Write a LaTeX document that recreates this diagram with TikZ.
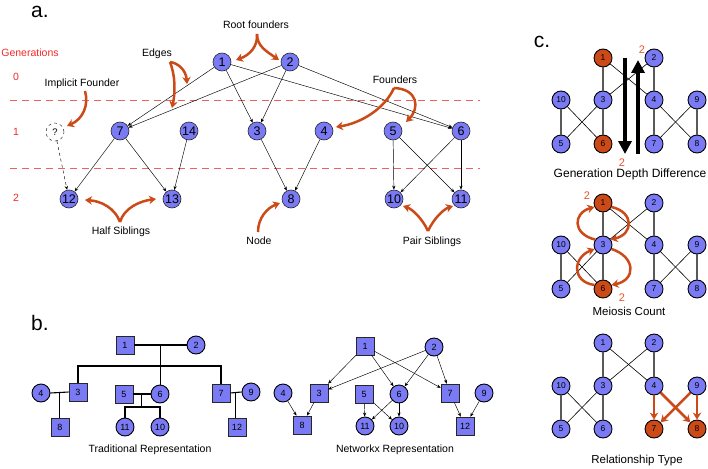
\documentclass[tikz,border=0pt]{standalone}
\usepackage{fontspec}
\setmainfont{Liberation Sans}
\usetikzlibrary{arrows.meta,calc}
\definecolor{nblue}{RGB}{122,122,245}
\definecolor{ored}{RGB}{204,74,24}
\definecolor{gred}{RGB}{245,40,40}
\definecolor{dred}{RGB}{238,95,95}
\definecolor{tred}{RGB}{230,85,45}
\begin{document}
\begin{tikzpicture}[x=1pt,y=-1pt,
  anode/.style={circle,draw=black!85,fill=nblue,line width=0.6pt,minimum size=18pt,inner sep=0pt,font=\fontsize{12.5}{12.5}\selectfont},
  qnode/.style={circle,draw=black!80,dashed,fill=white,line width=0.5pt,minimum size=18pt,inner sep=0pt,font=\fontsize{9.5}{9.5}\selectfont},
  bsq/.style={rectangle,draw=black!85,fill=nblue,line width=0.6pt,minimum size=18pt,inner sep=0pt,font=\fontsize{9}{9}\selectfont},
  bci/.style={circle,draw=black,fill=nblue,line width=0.9pt,minimum size=18pt,inner sep=0pt,font=\fontsize{9}{9}\selectfont},
  cnode/.style={circle,draw=black,fill=nblue,line width=0.9pt,minimum size=18pt,inner sep=0pt,font=\fontsize{8.5}{8.5}\selectfont},
  cor/.style={cnode,fill=ored},
  lbl/.style={font=\fontsize{10.5}{12}\selectfont,inner sep=0pt},
  blbl/.style={font=\fontsize{10.5}{12}\selectfont,inner sep=0pt},
  clbl/.style={font=\fontsize{11.5}{13}\selectfont,inner sep=0pt},
  plet/.style={font=\fontsize{21}{21}\selectfont,inner sep=0pt},
  gen/.style={font=\fontsize{10.5}{12}\selectfont,text=gred,inner sep=0pt},
  twoc/.style={font=\fontsize{11}{12}\selectfont,text=tred,inner sep=0pt},
  sarr/.style={line width=0.45pt,-{Stealth[length=4pt,width=3.2pt]}},
  oarr/.style={draw=ored,line width=2.5pt,-{Stealth[length=7pt,width=8.5pt]}},
  tline/.style={line width=1.1pt,black},
  gline/.style={line width=1.4pt,black!65},
  dline/.style={line width=0.6pt,black},
  bigarr/.style={line width=4.5pt,-{Triangle[length=13pt,width=13pt]}},
  gdash/.style={draw=dred,line width=1pt,dash pattern=on 7pt off 5pt}
]
\useasboundingbox (0,0) rectangle (708,468);

%% ---------------- panel a ----------------
\node[plet] (la) at (40,12) {a.};
\node[gen] (gtitle) at (30,53) {Generations};
\node[gen] (g0) at (16,77) {0};
\node[gen] (g1) at (16,132) {1};
\node[gen] (g2) at (16,198) {2};
\draw[gdash] (10,100.5) -- (480,100.5);
\draw[gdash] (10,168.5) -- (480,168.5);

\node[anode] (a1) at (222,62) {1};
\node[anode] (a2) at (290,62) {2};
\node[qnode] (aq) at (55,132) {?};
\node[anode] (a7) at (120,131) {7};
\node[anode] (a14) at (189,131) {14};
\node[anode] (a3) at (257,131) {3};
\node[anode] (a4) at (324,131) {4};
\node[anode] (a5) at (393,131) {5};
\node[anode] (a6) at (461,131) {6};
\node[anode] (a12) at (69,199) {12};
\node[anode] (a13) at (172,199) {13};
\node[anode] (a8) at (291,199) {8};
\node[anode] (a10) at (394,199) {10};
\node[anode] (a11) at (461,199) {11};

\draw[sarr] (a1) -- (a7);
\draw[sarr] (a2) -- (a7);
\draw[sarr] (a1) -- (a3);
\draw[sarr] (a2) -- (a3);
\draw[sarr] (a1) -- (a6);
\draw[sarr] (a2) -- (a6);
\draw[sarr,dashed] (aq) -- (a12);
\draw[sarr] (a7) -- (a12);
\draw[sarr] (a7) -- (a13);
\draw[sarr] (a14) -- (a13);
\draw[sarr] (a3) -- (a8);
\draw[sarr] (a4) -- (a8);
\draw[sarr] (a5) -- (a10);
\draw[sarr] (a5) -- (a11);
\draw[sarr] (a6) -- (a10);
\draw[sarr] (a6) -- (a11);

\node[lbl] (trf) at (256,25) {Root founders};
\node[lbl] (ted) at (157,54) {Edges};
\node[lbl] (tif) at (82,84) {Implicit Founder};
\node[lbl] (tfo) at (395,80) {Founders};
\node[lbl] (ths) at (121,232) {Half Siblings};
\node[lbl] (tno) at (259,241) {Node};
\node[lbl] (tps) at (432,242) {Pair Siblings};

\coordinate (orf) at (257,34);
\coordinate (prf1) at (236,60);
\coordinate (prf2) at (279,60);
\draw[oarr] (orf) .. controls (258,46) and (250,55) .. (prf1);
\draw[oarr] (orf) .. controls (257,46) and (266,51) .. (prf2);

\coordinate (oed) at (170,62);
\coordinate (ped1) at (187,84);
\coordinate (ped2) at (172,108);
\draw[oarr] (oed) .. controls (178,63) and (186,70) .. (ped1);
\draw[oarr] (oed) .. controls (176,78) and (175,94) .. (ped2);

\coordinate (oif) at (85,91);
\coordinate (pif) at (67,126);
\draw[oarr] (oif) .. controls (89,105) and (83,119) .. (pif);

\coordinate (ofo) at (394,88);
\coordinate (pfo1) at (336,127);
\coordinate (pfo2) at (406,122);
\draw[oarr] (ofo) .. controls (385,108) and (362,123) .. (pfo1);
\draw[oarr] (ofo) .. controls (418,89) and (420,108) .. (pfo2);

\coordinate (ohs) at (120,222);
\coordinate (phs1) at (85,200);
\coordinate (phs2) at (156,199);
\draw[oarr] (ohs) .. controls (115,208) and (101,201) .. (phs1);
\draw[oarr] (ohs) .. controls (124,208) and (140,201) .. (phs2);

\coordinate (ono) at (258,232);
\coordinate (pno) at (280,203);
\draw[oarr] (ono) .. controls (258,218) and (267,208) .. (pno);

\coordinate (ops) at (428,231);
\coordinate (pps1) at (403,206);
\coordinate (pps2) at (453,206);
\draw[oarr] (ops) .. controls (422,218) and (412,209) .. (pps1);
\draw[oarr] (ops) .. controls (434,218) and (444,209) .. (pps2);

%% ---------------- panel b ----------------
\node[plet] (lb) at (40,323) {b.};

\node[bsq] (t1) at (125,345) {1};
\node[bci] (t2) at (196,345) {2};
\node[bci] (t4) at (41,393) {4};
\node[bsq] (t3) at (78,392) {3};
\node[bsq] (t5) at (124,394) {5};
\node[bci] (t6) at (160,394) {6};
\node[bsq] (t7) at (221,393) {7};
\node[bci] (t9) at (251,392) {9};
\node[bsq] (t8) at (60,427) {8};
\node[bci] (t11) at (125,427) {11};
\node[bci] (t10) at (160,427) {10};
\node[bsq] (t12) at (237,427) {12};

\draw[tline] (t1.east) -- (t2.west);
\coordinate (m12) at ($(t1.east)!0.5!(t2.west)$);
\coordinate (bar1) at (0,366);
\draw[tline] (m12) -- (m12 |- t6.north);
\draw[tline] (t3.north) -- (t3.north |- bar1) -- (t7.north |- bar1) -- (t7.north);
\draw[tline] (t4.east) -- (t3.west);
\coordinate (m43) at ($(t4.east)!0.5!(t3.west)$);
\draw[tline] (m43) -- (m43 |- t8.north);
\draw[tline] (t5.east) -- (t6.west);
\coordinate (m56) at ($(t5.east)!0.5!(t6.west)$);
\coordinate (bar2) at (0,407);
\draw[tline] (m56) -- (m56 |- bar2);
\draw[tline] (t11.north) -- (t11.north |- bar2) -- (t10.north |- bar2) -- (t10.north);
\draw[tline] (t7.east) -- (t9.west);
\coordinate (m79) at ($(t7.east)!0.5!(t9.west)$);
\draw[tline] (m79) -- (m79 |- t12.north);

\node[blbl] (ttr) at (150,450) {Traditional Representation};

\node[bsq] (n1) at (365,346) {1};
\node[bci] (n2) at (434,347) {2};
\node[bci] (n4) at (283,393) {4};
\node[bsq] (n3) at (319,393) {3};
\node[bsq] (n5) at (364,394) {5};
\node[bci] (n6) at (399,394) {6};
\node[bsq] (n7) at (450,393) {7};
\node[bci] (n9) at (484,393) {9};
\node[bsq] (n8) at (302,425) {8};
\node[bci] (n11) at (365,426) {11};
\node[bci] (n10) at (399,426) {10};
\node[bsq] (n12) at (465,426) {12};

\draw[sarr] (n1) -- (n3);
\draw[sarr] (n1) -- (n6);
\draw[sarr] (n1) -- (n7);
\draw[sarr] (n2) -- (n3);
\draw[sarr] (n2) -- (n6);
\draw[sarr] (n2) -- (n7);
\draw[sarr] (n4) -- (n8);
\draw[sarr] (n3) -- (n8);
\draw[sarr] (n5) -- (n11);
\draw[sarr] (n5) -- (n10);
\draw[sarr] (n6) -- (n11);
\draw[sarr] (n6) -- (n10);
\draw[sarr] (n7) -- (n12);
\draw[sarr] (n9) -- (n12);

\node[blbl] (tnx) at (395,450) {Networkx Representation};

%% ---------------- panel c ----------------
\node[plet] (lc) at (542,42) {c.};

% graph 1
\node[cor] (p1) at (603,58) {1};
\node[cnode] (p2) at (654,58) {2};
\node[cnode] (p10) at (561,100) {10};
\node[cnode] (p3) at (603,100) {3};
\node[cnode] (p4) at (654,100) {4};
\node[cnode] (p9) at (697,100) {9};
\node[cnode] (p5) at (561,144) {5};
\node[cor] (p6) at (603,144) {6};
\node[cnode] (p7) at (654,144) {7};
\node[cnode] (p8) at (697,144) {8};
\draw[gline] (p1) -- (p3);
\draw[dline] (p1) -- (p4);
\draw[dline] (p2) -- (p3);
\draw[gline] (p2) -- (p4);
\draw[gline] (p10) -- (p5);
\draw[dline] (p10) -- (p6);
\draw[dline] (p3) -- (p5);
\draw[gline] (p3) -- (p6);
\draw[gline] (p4) -- (p7);
\draw[dline] (p4) -- (p8);
\draw[dline] (p9) -- (p7);
\draw[gline] (p9) -- (p8);
\coordinate (bd1) at (625,58);
\coordinate (bd2) at (625,154);
\coordinate (bu1) at (638,154);
\coordinate (bu2) at (638,60);
\draw[bigarr] (bd1) -- (bd2);
\draw[bigarr] (bu1) -- (bu2);
\node[twoc] (pt1) at (642,50) {2};
\node[twoc] (pt2) at (622,163) {2};
\node[clbl,font=\fontsize{12}{13}\selectfont] (tgd) at (630,174) {Generation Depth Difference};

% graph 2
\node[cor] (q1) at (603,203) {1};
\node[cnode] (q2) at (654,203) {2};
\node[cnode] (q10) at (561,245) {10};
\node[cnode] (q3) at (603,245) {3};
\node[cnode] (q4) at (654,245) {4};
\node[cnode] (q9) at (697,245) {9};
\node[cnode] (q5) at (561,289) {5};
\node[cor] (q6) at (603,289) {6};
\node[cnode] (q7) at (654,289) {7};
\node[cnode] (q8) at (697,289) {8};
\draw[gline] (q1) -- (q3);
\draw[dline] (q1) -- (q4);
\draw[dline] (q2) -- (q3);
\draw[gline] (q2) -- (q4);
\draw[gline] (q10) -- (q5);
\draw[dline] (q10) -- (q6);
\draw[dline] (q3) -- (q5);
\draw[gline] (q3) -- (q6);
\draw[gline] (q4) -- (q7);
\draw[dline] (q4) -- (q8);
\draw[dline] (q9) -- (q7);
\draw[gline] (q9) -- (q8);
\draw[oarr] (q3.145) .. controls (572,234) and (573,213) .. (q1.205);
\draw[oarr] (q1.-25) .. controls (634,212) and (634,234) .. (q3.35);
\draw[oarr] (q6.155) .. controls (572,282) and (572,258) .. (q3.205);
\draw[oarr] (q3.-25) .. controls (636,257) and (636,280) .. (q6.25);
\node[twoc] (qt1) at (587,196) {2};
\node[twoc] (qt2) at (622,298) {2};
\node[clbl] (tmc) at (629,311) {Meiosis Count};

% graph 3
\node[cnode] (r1) at (603,343) {1};
\node[cnode] (r2) at (654,343) {2};
\node[cnode] (r10) at (561,386) {10};
\node[cnode] (r3) at (603,386) {3};
\node[cnode] (r4) at (654,386) {4};
\node[cnode] (r9) at (697,386) {9};
\node[cnode] (r5) at (561,429) {5};
\node[cnode] (r6) at (603,429) {6};
\node[cor] (r7) at (654,429) {7};
\node[cor] (r8) at (697,429) {8};
\draw[gline] (r1) -- (r3);
\draw[dline] (r1) -- (r4);
\draw[dline] (r2) -- (r3);
\draw[gline] (r2) -- (r4);
\draw[gline] (r10) -- (r5);
\draw[dline] (r10) -- (r6);
\draw[dline] (r3) -- (r5);
\draw[gline] (r3) -- (r6);
\draw[oarr,line width=2.5pt] (r4) -- (r7);
\draw[oarr,line width=2.5pt] (r4) -- (r8);
\draw[oarr,line width=2.5pt] (r9) -- (r7);
\draw[oarr,line width=2.5pt] (r9) -- (r8);
\node[clbl] (trt) at (637,461) {Relationship Type};
\end{tikzpicture}
\end{document}
